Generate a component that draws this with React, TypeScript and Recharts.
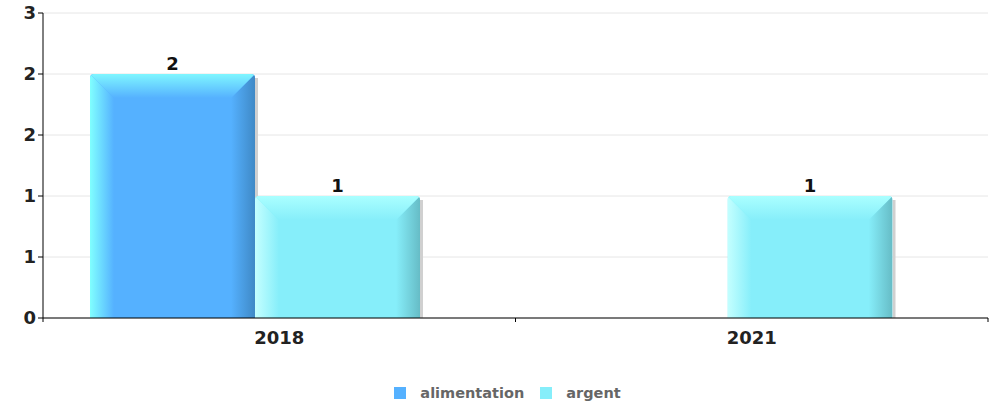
import React from "react";
import {
  BarChart,
  Bar,
  XAxis,
  YAxis,
  CartesianGrid,
  Legend,
  LabelList,
} from "recharts";

const years = ["2018", "2021"];
const alimentation = [2, 0];
const argent = [1, 1];
const yTicks = [0, 0.5, 1, 1.5, 2, 2.5];

const data = years.map((year, i) => ({
  year,
  alimentation: alimentation[i],
  argent: argent[i],
}));

const FONT = "'DejaVu Sans', Verdana, sans-serif";

const palettes: Record<string, { main: string; light: string; top: string; dark: string }> = {
  alimentation: { main: "#55b1ff", light: "#80ffff", top: "#7ff6ff", dark: "#3f89c6" },
  argent: { main: "#86eefa", light: "#c4ffff", top: "#aaffff", dark: "#66bcc6" },
};

const Bar3D = (props: any) => {
  const { x, y, width, height, dataKey, index } = props;
  if (!height || height <= 0) return null;
  const p = palettes[dataKey];
  const b = 24;
  const r = 4;
  const id = `g-${dataKey}-${index}`;
  const outline = `M${x},${y + height} L${x},${y + r} Q${x},${y} ${x + r},${y} L${x + width - r},${y} Q${x + width},${y} ${x + width},${y + r} L${x + width},${y + height} Z`;
  return (
    <g>
      <defs>
        <linearGradient id={`${id}-l`} x1="0" y1="0" x2="1" y2="0">
          <stop offset="0%" stopColor={p.light} />
          <stop offset="100%" stopColor={p.main} />
        </linearGradient>
        <linearGradient id={`${id}-t`} x1="0" y1="0" x2="0" y2="1">
          <stop offset="0%" stopColor={p.top} />
          <stop offset="100%" stopColor={p.main} />
        </linearGradient>
        <linearGradient id={`${id}-r`} x1="0" y1="0" x2="1" y2="0">
          <stop offset="0%" stopColor={p.main} />
          <stop offset="100%" stopColor={p.dark} />
        </linearGradient>
        <clipPath id={`${id}-c`}>
          <path d={outline} />
        </clipPath>
      </defs>
      <rect x={x + width} y={y + 4} width={3} height={height - 4} fill="#d0d0d0" />
      <g clipPath={`url(#${id}-c)`}>
        <rect x={x} y={y} width={width} height={height} fill={p.main} />
        <polygon
          points={`${x},${y} ${x + b},${y + b} ${x + b},${y + height} ${x},${y + height}`}
          fill={`url(#${id}-l)`}
        />
        <polygon
          points={`${x + width},${y} ${x + width},${y + height} ${x + width - b},${y + height} ${x + width - b},${y + b}`}
          fill={`url(#${id}-r)`}
        />
        <polygon
          points={`${x},${y} ${x + width},${y} ${x + width - b},${y + b} ${x + b},${y + b}`}
          fill={`url(#${id}-t)`}
        />
      </g>
    </g>
  );
};

const XTick = (props: any) => {
  const { x, y, payload } = props;
  const half = payload.offset || 0;
  return (
    <g>
      <line x1={x - half} y1={y} x2={x - half} y2={y + 4} stroke="#000" />
      <line x1={x + half} y1={y} x2={x + half} y2={y + 4} stroke="#000" />
      <text
        x={x}
        y={y + 26}
        textAnchor="middle"
        fontFamily={FONT}
        fontWeight="bold"
        fontSize={18}
        fill="#222"
      >
        {payload.value}
      </text>
    </g>
  );
};

const LegendContent = (props: any) => {
  const { payload } = props;
  return (
    <div style={{ display: "flex", justifyContent: "center", alignItems: "center", height: 20, paddingLeft: 43 }}>
      {(payload || []).map((entry: any) => (
        <div key={entry.value} style={{ display: "flex", alignItems: "center", marginRight: 16 }}>
          <span style={{ width: 12, height: 12, background: entry.color, display: "inline-block", marginRight: 14 }} />
          <span style={{ fontFamily: FONT, fontWeight: "bold", fontSize: 14.5, color: "#666" }}>
            {entry.value}
          </span>
        </div>
      ))}
    </div>
  );
};

export default function App() {
  return (
    <div style={{ position: "fixed", left: 0, top: 0, background: "#fff" }}>
      <BarChart
        width={998}
        height={404}
        data={data}
        margin={{ top: 13, right: 10, bottom: 1, left: 0 }}
        barGap={0}
      >
        <CartesianGrid xAxisId="labels" vertical={false} stroke="#e6e6e6" />
        <XAxis xAxisId="bars" dataKey="year" hide height={0} padding={{ left: -24, right: 24 }} />
        <XAxis
          xAxisId="labels"
          dataKey="year"
          height={65}
          tickLine={false}
          tickSize={0}
          tickMargin={0}
          axisLine={{ stroke: "#000" }}
          tick={<XTick />}
        />
        <YAxis
          width={43}
          domain={[0, 2.5]}
          ticks={yTicks}
          interval={0}
          tickFormatter={(v: number) => String(Math.round(v))}
          axisLine={{ stroke: "#000" }}
          tickLine={{ stroke: "#000" }}
          tickSize={5}
          tick={{ fontFamily: FONT, fontWeight: "bold", fontSize: 18, fill: "#222" }}
        />
        <Legend verticalAlign="bottom" content={<LegendContent />} />
        <Bar
          xAxisId="bars"
          dataKey="alimentation"
          name="alimentation"
          fill="#55b1ff"
          barSize={165}
          shape={<Bar3D />}
          isAnimationActive={false}
        >
          <LabelList
            dataKey="alimentation"
            position="top"
            offset={4}
            formatter={(v: any) => (v ? v : "")}
            style={{ fontFamily: FONT, fontWeight: "bold", fontSize: 18, fill: "#111" }}
          />
        </Bar>
        <Bar
          xAxisId="bars"
          dataKey="argent"
          name="argent"
          fill="#86eefa"
          barSize={165}
          shape={<Bar3D />}
          isAnimationActive={false}
        >
          <LabelList
            dataKey="argent"
            position="top"
            offset={4}
            formatter={(v: any) => (v ? v : "")}
            style={{ fontFamily: FONT, fontWeight: "bold", fontSize: 18, fill: "#111" }}
          />
        </Bar>
      </BarChart>
    </div>
  );
}
